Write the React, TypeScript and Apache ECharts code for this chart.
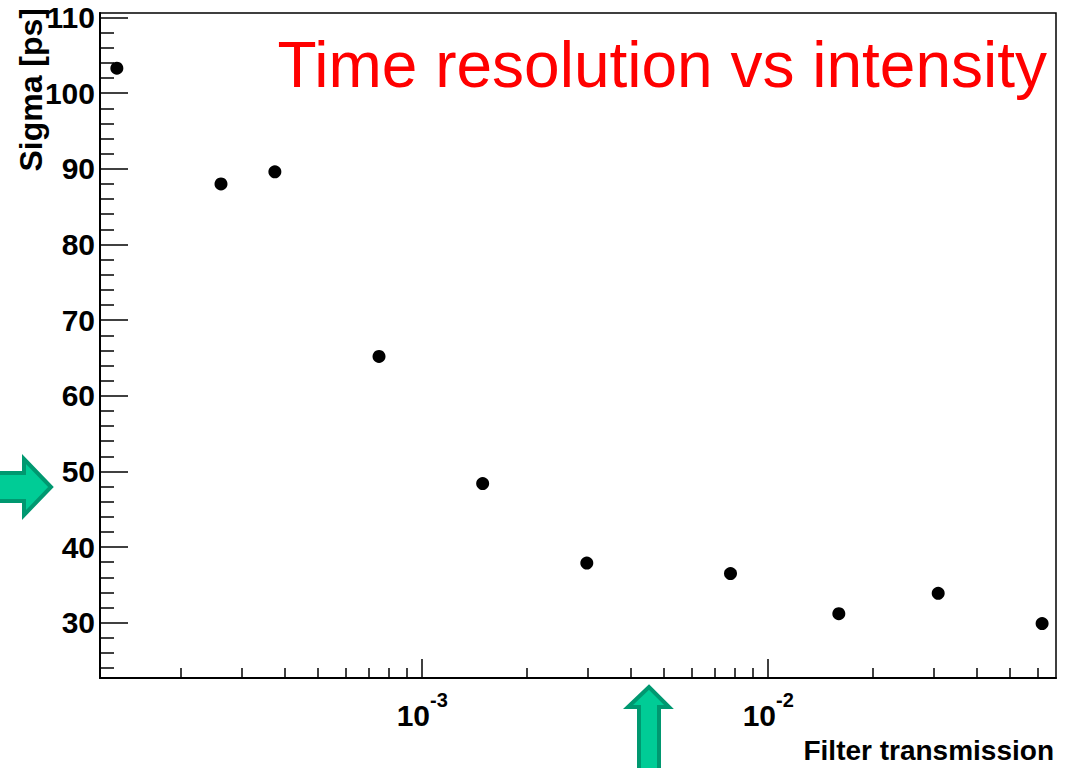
import React, { useEffect, useRef } from 'react';
import * as echarts from 'echarts';

// ---- data ----
const transmission = [1.31e-4, 2.62e-4, 3.75e-4, 7.5e-4, 1.495e-3, 2.99e-3, 7.78e-3, 1.6e-2, 3.1e-2, 6.19e-2];
const sigma = [103.3, 88.0, 89.6, 65.2, 48.4, 37.9, 36.5, 31.2, 33.9, 29.9];

// ---- axes ----
const X_MIN = 1.171e-4;
const X_MAX = 0.0679;
const Y_MIN = 22.7;
const Y_MAX = 110.6;

const xMajorTicks = [1e-3, 1e-2];
const xMinorTicks = [
  2e-4, 3e-4, 4e-4, 5e-4, 6e-4, 7e-4, 8e-4, 9e-4,
  2e-3, 3e-3, 4e-3, 5e-3, 6e-3, 7e-3, 8e-3, 9e-3,
  2e-2, 3e-2, 4e-2, 5e-2, 6e-2,
];
const yMajorTicks = [30, 40, 50, 60, 70, 80, 90, 100, 110];
const yMinorTicks = [
  24, 26, 28, 32, 34, 36, 38, 42, 44, 46, 48, 52, 54, 56, 58, 62, 64, 66, 68,
  72, 74, 76, 78, 82, 84, 86, 88, 92, 94, 96, 98, 102, 104, 106, 108,
];

const titleText = 'Time resolution vs intensity';
const xTitle = 'Filter transmission';
const yTitle = 'Sigma [ps]';

const FONT = "'Liberation Sans', Arial, Helvetica, sans-serif";
const lg = (v: number) => Math.log10(v);

function txt(text: string, x: number, y: number, size: number, align: string, valign: string, weight = 'bold', fill = '#000') {
  return {
    type: 'text',
    x,
    y,
    style: {
      text,
      fill,
      font: `${weight} ${size}px ${FONT}`,
      fontSize: size,
      fontWeight: weight,
      fontFamily: FONT,
      align,
      verticalAlign: valign,
    },
  };
}

export default function App() {
  const ref = useRef<HTMLDivElement>(null);

  useEffect(() => {
    if (!ref.current) return;
    const chart = echarts.init(ref.current, null, { renderer: 'svg' });

    const arrowStyle = { fill: '#00cc96', stroke: '#009870', lineWidth: 4 };
    const tickLine = { color: '#000', width: 1.5 };

    const xBase = {
      type: 'value',
      min: lg(X_MIN),
      max: lg(X_MAX),
      position: 'bottom',
      splitLine: { show: false },
    };
    const yBase = {
      type: 'value',
      min: Y_MIN,
      max: Y_MAX,
      position: 'left',
      splitLine: { show: false },
    };

    chart.setOption({
      animation: false,
      backgroundColor: '#fff',
      grid: {
        left: 100,
        top: 13,
        right: 14,
        bottom: 90,
        show: true,
        borderColor: '#000',
        borderWidth: 1.5,
        backgroundColor: 'transparent',
      },
      xAxis: [
        {
          ...xBase,
          axisLine: { show: true, onZero: false, lineStyle: { color: '#000', width: 2 } },
          axisTick: {
            show: true,
            inside: true,
            length: 19,
            customValues: xMajorTicks.map(lg),
            lineStyle: tickLine,
          },
          axisLabel: {
            show: true,
            customValues: xMajorTicks.map(lg),
            margin: 12,
            formatter: (v: number) => `{b|10}{s|${Math.round(v)}}`,
            rich: {
              b: { fontSize: 30, fontWeight: 'bold', fontFamily: FONT, color: '#000', lineHeight: 40, verticalAlign: 'bottom' },
              s: { fontSize: 20, fontWeight: 'bold', fontFamily: FONT, color: '#000', lineHeight: 20, verticalAlign: 'top' },
            },
          },
        },
        {
          ...xBase,
          axisLine: { show: false },
          axisTick: {
            show: true,
            inside: true,
            length: 10,
            customValues: xMinorTicks.map(lg),
            lineStyle: tickLine,
          },
          axisLabel: { show: false },
        },
      ],
      yAxis: [
        {
          ...yBase,
          axisLine: { show: true, onZero: false, lineStyle: { color: '#000', width: 2 } },
          axisTick: {
            show: true,
            inside: true,
            length: 28,
            customValues: yMajorTicks,
            lineStyle: tickLine,
          },
          axisLabel: {
            show: true,
            customValues: yMajorTicks,
            margin: 5,
            fontSize: 30,
            fontWeight: 'bold',
            fontFamily: FONT,
            color: '#000',
          },
        },
        {
          ...yBase,
          axisLine: { show: false },
          axisTick: {
            show: true,
            inside: true,
            length: 14,
            customValues: yMinorTicks,
            lineStyle: tickLine,
          },
          axisLabel: { show: false },
        },
      ],
      series: [
        {
          type: 'scatter',
          xAxisIndex: 0,
          yAxisIndex: 0,
          data: transmission.map((t, i) => [lg(t), sigma[i]]),
          symbol: 'circle',
          symbolSize: 13,
          itemStyle: { color: '#000', opacity: 1 },
          z: 10,
        },
      ],
      graphic: [
        txt(titleText, 1047, 65, 64, 'right', 'middle', 'normal', '#ff0000'),
        txt(xTitle, 1054, 750, 28, 'right', 'middle'),
        {
          type: 'text',
          x: 31,
          y: 8,
          rotation: Math.PI / 2,
          style: {
            text: yTitle,
            fill: '#000',
            font: `bold 32px ${FONT}`,
            fontSize: 32,
            fontWeight: 'bold',
            fontFamily: FONT,
            align: 'right',
            verticalAlign: 'middle',
          },
        },
        {
          type: 'polygon',
          shape: {
            points: [
              [-6, 473], [24, 473], [24, 459], [51, 487], [24, 515], [24, 501], [-6, 501],
            ],
          },
          style: arrowStyle,
        },
        {
          type: 'polygon',
          shape: {
            points: [
              [639, 775], [639, 707], [628, 707], [649, 687], [669, 707], [659, 707], [659, 775],
            ],
          },
          style: arrowStyle,
        },
      ],
    });

    return () => chart.dispose();
  }, []);

  return (
    <div
      ref={ref}
      style={{ position: 'absolute', left: 0, top: 0, width: 1070, height: 768 }}
    />
  );
}
